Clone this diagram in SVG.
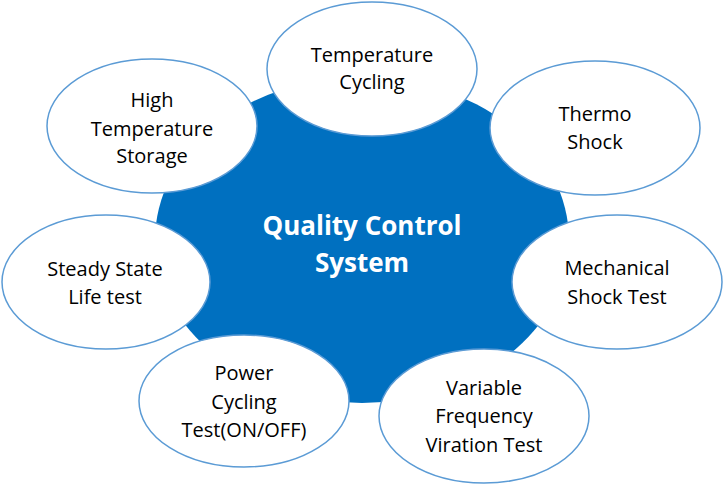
<svg xmlns="http://www.w3.org/2000/svg" width="723" height="486" viewBox="0 0 723 486">
<style>
.node{fill:#ffffff;stroke:#5B9BD5;stroke-width:1.5}
.lbl{font-family:"Open Sans","Noto Sans","Liberation Sans",sans-serif;font-size:20px;fill:#000000;text-anchor:middle}
.core{fill:#0070C0}
.coretxt{font-family:"Open Sans","Noto Sans","Liberation Sans",sans-serif;font-size:26px;font-weight:bold;fill:#ffffff;text-anchor:middle}
</style>
<rect width="723" height="486" fill="#ffffff"/>
<g id="center">
<ellipse class="core" cx="362" cy="240" rx="207" ry="163"/>
<text class="coretxt" x="362" y="235">Quality Control</text>
<text class="coretxt" x="362" y="272">System</text>
</g>
<g id="connectors"/>
<g id="temperature-cycling">
<ellipse class="node" cx="372" cy="69" rx="105" ry="67"/>
<text class="lbl" x="372" y="62">Temperature</text>
<text class="lbl" x="372" y="89">Cycling</text>
</g>
<g id="thermo-shock">
<ellipse class="node" cx="595" cy="128" rx="105" ry="67"/>
<text class="lbl" x="595" y="121">Thermo</text>
<text class="lbl" x="595" y="149">Shock</text>
</g>
<g id="mechanical-shock">
<ellipse class="node" cx="617" cy="282" rx="105" ry="67"/>
<text class="lbl" x="617" y="275">Mechanical</text>
<text class="lbl" x="617" y="304">Shock Test</text>
</g>
<g id="variable-frequency">
<ellipse class="node" cx="484" cy="416" rx="105" ry="67"/>
<text class="lbl" x="484" y="395">Variable</text>
<text class="lbl" x="484" y="423">Frequency</text>
<text class="lbl" x="484" y="452">Viration Test</text>
</g>
<g id="power-cycling">
<ellipse class="node" cx="244" cy="401" rx="105" ry="66"/>
<text class="lbl" x="244" y="380">Power</text>
<text class="lbl" x="244" y="409">Cycling</text>
<text class="lbl" x="244" y="437">Test(ON/OFF)</text>
</g>
<g id="steady-state">
<ellipse class="node" cx="106" cy="282" rx="104" ry="67"/>
<text class="lbl" x="105" y="276">Steady State</text>
<text class="lbl" x="105" y="304">Life test</text>
</g>
<g id="high-temperature-storage">
<ellipse class="node" cx="152" cy="126" rx="105" ry="67"/>
<text class="lbl" x="152" y="107">High</text>
<text class="lbl" x="152" y="136">Temperature</text>
<text class="lbl" x="152" y="163">Storage</text>
</g>
</svg>
